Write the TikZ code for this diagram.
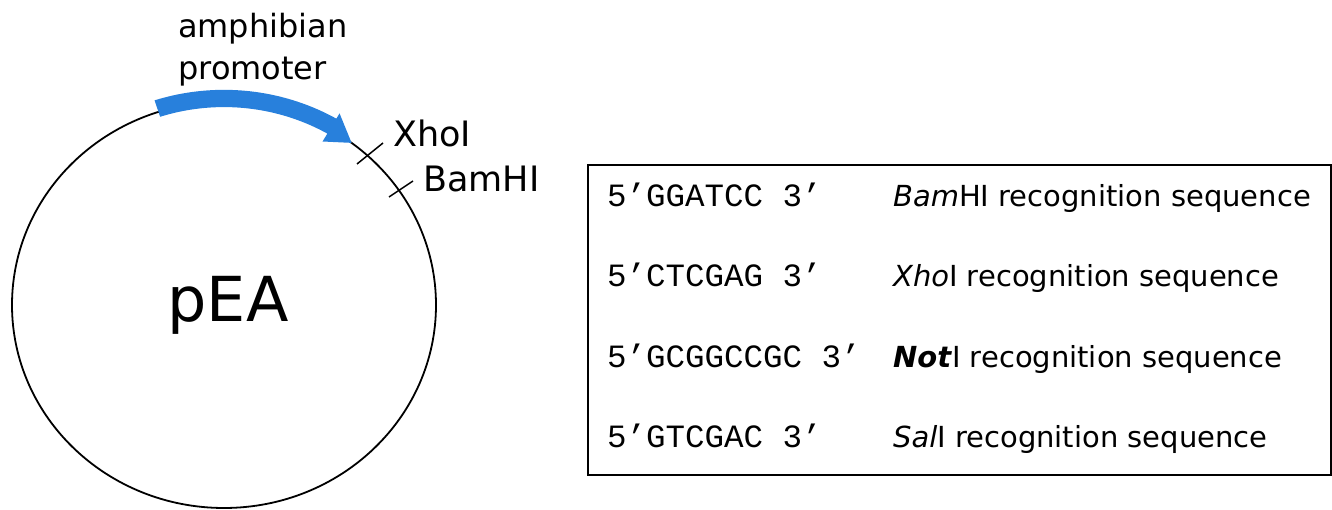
\documentclass[tikz,border=0pt]{standalone}
\usepackage{fontspec}
\setmainfont{DejaVu Sans}
\newfontfamily\seqfont{Liberation Mono}
\usetikzlibrary{shapes.geometric}
\definecolor{promoblue}{RGB}{40,128,220}
\begin{document}
\begin{tikzpicture}[x=1pt,y=-1pt,
  txt/.style={inner sep=0pt, anchor=base west},
  maplbl/.style={txt, font=\fontsize{32}{38}\selectfont},
  sitelbl/.style={txt, font=\fontsize{35}{40}\selectfont},
  seq/.style={txt, font=\seqfont\fontsize{32.5}{38}\selectfont},
  enz/.style={txt, font=\fontsize{29}{34}\selectfont},
  tick/.style={line width=1.5pt},
  promo/.style={fill=promoblue}]
\useasboundingbox (0,0) rectangle (1332,510);
\fill[white] (0,0) rectangle (1332,510);
% plasmid
\node[draw, ellipse, line width=1.8pt, minimum width=424pt, minimum height=406pt, inner sep=0pt] (plasmid) at (224,305) {};
\node[inner sep=0pt, anchor=base, font=\fontsize{62}{70}\selectfont] (pea) at (228,322) {pEA};
% promoter arrow
\fill[promo] plot[domain=108:60, samples=40] ({224+1.06*212*cos(\x)}, {305-1.06*203*sin(\x)})
  -- ({224+1.09*212*cos(60)}, {305-1.09*203*sin(60)})
  -- ({224+1.0*212*cos(53)}, {305-1.0*203*sin(53)})
  -- ({224+0.93*212*cos(60)}, {305-0.93*203*sin(60)})
  -- plot[domain=60:108, samples=40] ({224+0.975*212*cos(\x)}, {305-0.975*203*sin(\x)})
  -- cycle;
\node[maplbl] (amph) at (178,38) {amphibian};
\node[maplbl] (prom) at (178,80) {promoter};
% restriction sites
\coordinate (xa) at (357,164);
\coordinate (xb) at (383,143);
\coordinate (ba) at (389,197);
\coordinate (bb) at (413,181);
\draw[tick] (xa) -- (xb);
\draw[tick] (ba) -- (bb);
\node[sitelbl] (xho) at (393,147) {XhoI};
\node[sitelbl] (bam) at (423,192) {BamHI};
% table
\node[draw, line width=2pt, anchor=north west, inner sep=0pt, minimum width=743pt, minimum height=310pt] (box) at (587,164) {};
\node[seq] (s1) at (607,207) {5’GGATCC 3’};
\node[seq] (s2) at (607,287) {5’CTCGAG 3’};
\node[seq] (s3) at (607,367) {5’GCGGCCGC 3’};
\node[seq] (s4) at (607,447) {5’GTCGAC 3’};
\node[enz] (e1) at (893,207) {\textit{Bam}HI recognition sequence};
\node[enz] (e2) at (893,287) {\textit{Xho}I recognition sequence};
\node[enz] (e3) at (893,367) {\textbf{\textit{Not}}I recognition sequence};
\node[enz] (e4) at (893,447) {\textit{Sal}I recognition sequence};
\end{tikzpicture}
\end{document}
